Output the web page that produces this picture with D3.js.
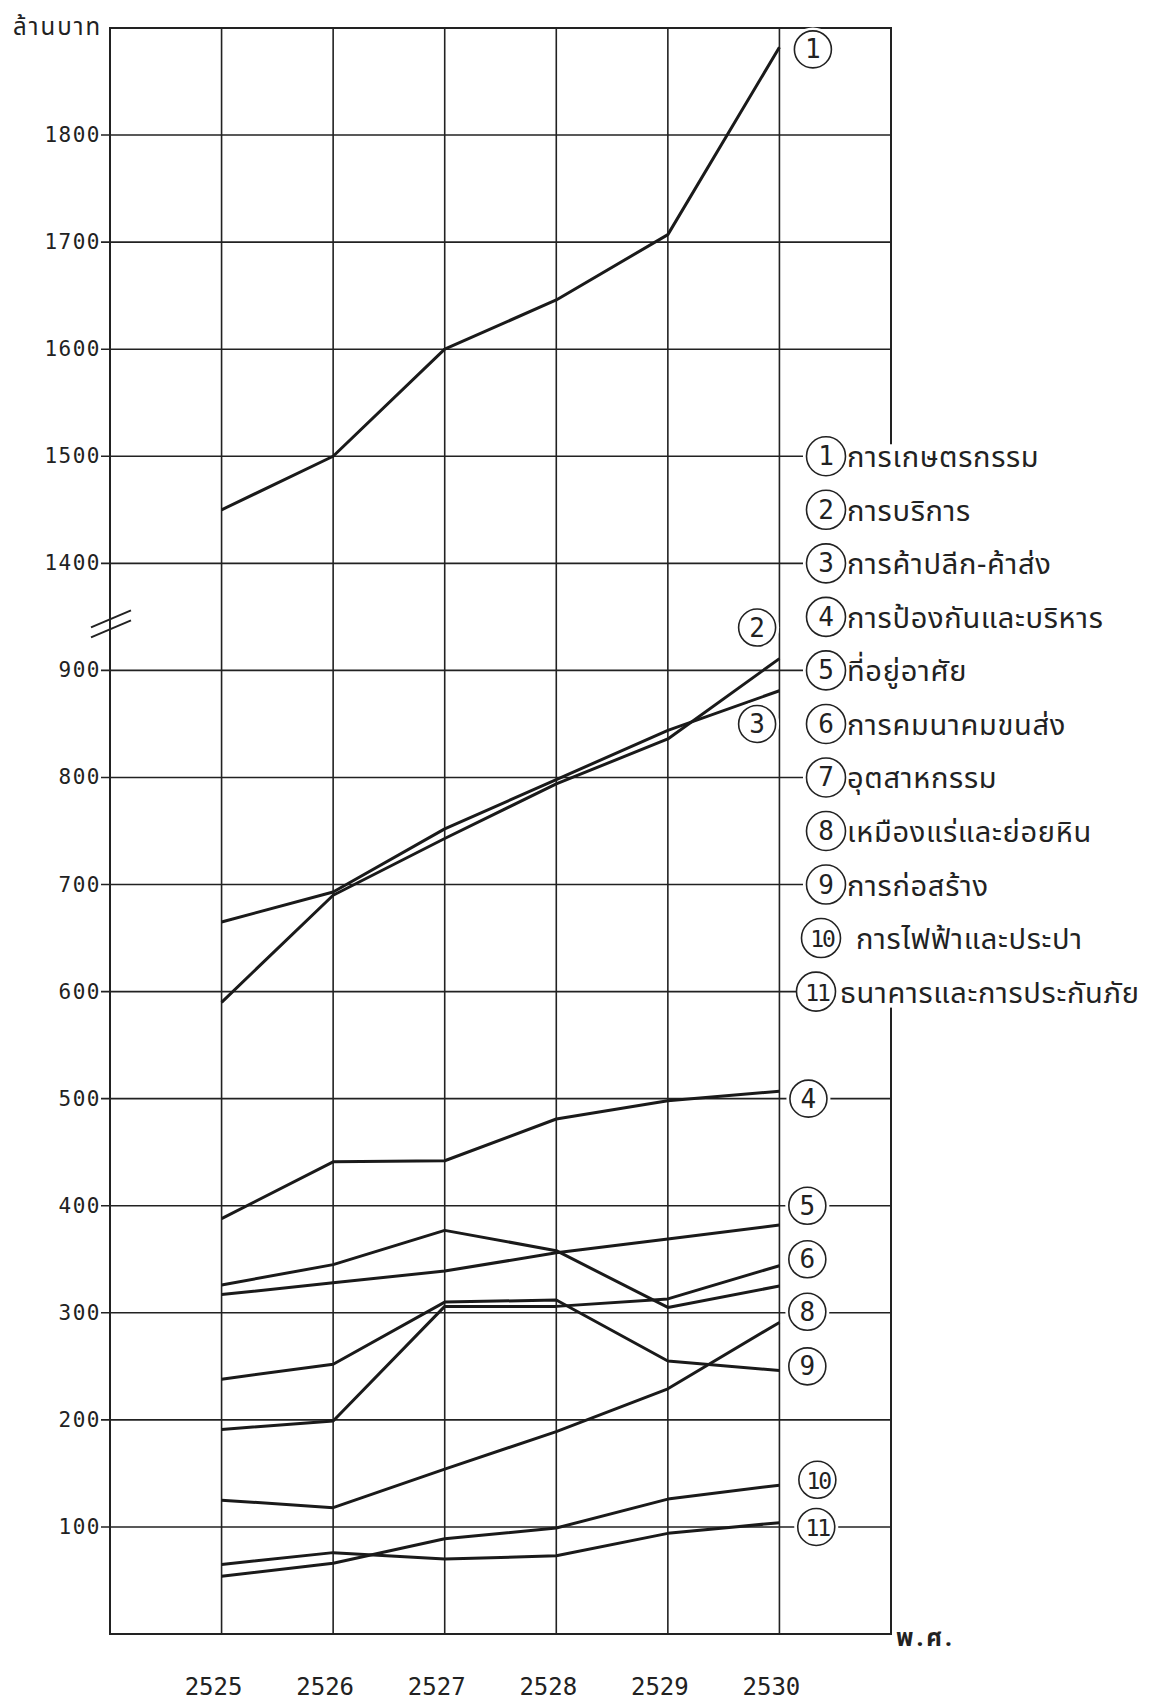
<!DOCTYPE html>
<html lang="th">
<head>
<meta charset="UTF-8">
<title>มูลค่าผลิตภัณฑ์ พ.ศ. 2525-2530</title>
<script src="https://d3js.org/d3.v7.min.js"></script>
<style>
  body { margin: 0; background: #fff; }
  svg { display: block; }
  .num { font-family: "DejaVu Sans Mono", "Liberation Mono", monospace; fill: #222; }
  .thai { font-family: "Noto Sans Thai", "Loma", "Garuda", "Tlwg Typo", "DejaVu Sans", sans-serif; fill: #222; }
</style>
</head>
<body>
<div id="chart"></div>
<script>
// ---- data (ล้านบาท) ----
var years = [2525, 2526, 2527, 2528, 2529, 2530];

var names = [
  "การเกษตรกรรม",
  "การบริการ",
  "การค้าปลีก-ค้าส่ง",
  "การป้องกันและบริหาร",
  "ที่อยู่อาศัย",
  "การคมนาคมขนส่ง",
  "อุตสาหกรรม",
  "เหมืองแร่และย่อยหิน",
  "การก่อสร้าง",
  "การไฟฟ้าและประปา",
  "ธนาคารและการประกันภัย"
];

var agriculture  = [1450, 1500, 1600, 1646, 1707, 1882];
var services     = [590, 690, 743, 794, 836, 911];
var trade        = [665, 693, 752, 798, 844, 881];
var defence      = [388, 441, 442, 481, 498, 507];
var housing      = [317, 328, 339, 356, 369, 382];
var transport    = [191, 199, 306, 306, 313, 344];
var industry     = [326, 345, 377, 358, 305, 325];
var mining       = [125, 118, 154, 189, 229, 291];
var construction = [238, 252, 310, 312, 255, 246];
var utilities    = [54, 66, 89, 99, 126, 139];
var banking      = [65, 76, 70, 73, 94, 104];

var series = [agriculture, services, trade, defence, housing, transport,
              industry, mining, construction, utilities, banking];

// tick labels on the broken y axis
var lowTicks  = [100, 200, 300, 400, 500, 600, 700, 800, 900];
var highTicks = [1400, 1500, 1600, 1700, 1800];

// ---- layout ----
var W = 1159, H = 1701;
var plotL = 110, plotR = 891, plotT = 28, plotB = 1634;

// axis is cut between 900 and 1400: upper part is shifted down by 400
var cut = 400;
function disp(v) { return v >= 1000 ? v - cut : v; }

var x = d3.scaleLinear().domain([2524, 2531]).range([plotL, plotR]);
var y = d3.scaleLinear().domain([0, 1500]).range([plotB, plotT]);

var svg = d3.select("#chart").append("svg")
  .attr("width", W)
  .attr("height", H);

// horizontal grid lines + tick labels
var allTicks = lowTicks.concat(highTicks);
svg.append("g").selectAll("line")
  .data(allTicks)
  .enter().append("line")
    .attr("x1", plotL - 9)
    .attr("x2", plotR)
    .attr("y1", function(d) { return y(disp(d)); })
    .attr("y2", function(d) { return y(disp(d)); })
    .attr("stroke", "#222")
    .attr("stroke-width", 1.6);

svg.append("g").selectAll("text")
  .data(allTicks)
  .enter().append("text")
    .attr("class", "num")
    .attr("x", plotL - 9)
    .attr("y", function(d) { return y(disp(d)) + 7; })
    .attr("text-anchor", "end")
    .style("font-size", "21px")
    .style("letter-spacing", "1.5px")
    .text(function(d) { return d; });

// vertical grid lines at each year
svg.append("g").selectAll("line")
  .data(years)
  .enter().append("line")
    .attr("x1", function(d) { return x(d); })
    .attr("x2", function(d) { return x(d); })
    .attr("y1", plotT)
    .attr("y2", plotB)
    .attr("stroke", "#222")
    .attr("stroke-width", 1.6);

// frame
svg.append("rect")
  .attr("x", plotL)
  .attr("y", plotT)
  .attr("width", plotR - plotL)
  .attr("height", plotB - plotT)
  .attr("fill", "none")
  .attr("stroke", "#222")
  .attr("stroke-width", 2);

// year labels
svg.append("g").selectAll("text")
  .data(years)
  .enter().append("text")
    .attr("class", "num")
    .attr("x", function(d) { return x(d) - 8; })
    .attr("y", plotB + 61)
    .attr("text-anchor", "middle")
    .style("font-size", "24px")
    .text(function(d) { return d; });

svg.append("text")
  .attr("class", "thai")
  .attr("x", plotR + 5)
  .attr("y", plotB + 12)
  .style("font-size", "24px")
  .style("font-weight", "bold")
  .style("letter-spacing", "3px")
  .text("พ.ศ.");

// y axis title
svg.append("text")
  .attr("class", "thai")
  .attr("x", 13)
  .attr("y", plotT + 7)
  .style("font-size", "24px")
  .style("letter-spacing", "2px")
  .text("ล้านบาท");

// axis break marks
var bx = x(2524), by = y(943);
[-5, 5].forEach(function(o) {
  svg.append("line")
    .attr("x1", bx - 19).attr("y1", by + o + 8)
    .attr("x2", bx + 21).attr("y2", by + o - 9)
    .attr("stroke", "#222")
    .attr("stroke-width", 2);
});

// data lines
var line = d3.line()
  .x(function(d, i) { return x(years[i]); })
  .y(function(d) { return y(disp(d)); });

svg.append("g").selectAll("path")
  .data(series)
  .enter().append("path")
    .attr("d", line)
    .attr("fill", "none")
    .attr("stroke", "#1a1a1a")
    .attr("stroke-width", 3)
    .attr("stroke-linejoin", "round");

// numbered circles next to the lines: [series no, year position, value on the drawn axis]
var tags = [
  [1, 2530.3, 1480], [2, 2529.8, 940], [3, 2529.8, 850],
  [4, 2530.26, 500], [5, 2530.25, 400], [6, 2530.25, 350], [8, 2530.25, 301],
  [9, 2530.25, 250], [10, 2530.34, 144], [11, 2530.33, 100]
];

function badge(g, n, cx, cy, r) {
  g.append("circle")
    .attr("cx", cx).attr("cy", cy).attr("r", r)
    .attr("fill", "#fff")
    .attr("stroke", "#222")
    .attr("stroke-width", 1.6);
  g.append("text")
    .attr("class", "num")
    .attr("x", cx + (n > 9 ? 1 : 0))
    .attr("y", cy + 9)
    .attr("text-anchor", "middle")
    .style("font-size", n > 9 ? "23px" : "26px")
    .style("letter-spacing", n > 9 ? "-2px" : "0px")
    .text(n);
}

var tagG = svg.append("g");
tags.forEach(function(t) {
  // small white gap on the grid line around the circle
  tagG.append("circle")
    .attr("cx", x(t[1])).attr("cy", y(t[2])).attr("r", 22)
    .attr("fill", "#fff");
  badge(tagG, t[0], x(t[1]), y(t[2]), 18.5);
});

// legend (covers the right edge of the frame)
var step = (y(1000) - y(1100)) / 2;
svg.append("rect")
  .attr("x", 803)
  .attr("y", y(1100) - 12)
  .attr("width", W - 803)
  .attr("height", step * 10 + 24 + 4)
  .attr("fill", "#fff");

var legG = svg.append("g");
names.forEach(function(label, i) {
  var cy = y(1100) + i * step;
  var cx = i < 9 ? 826 : (i == 9 ? 821 : 816);
  badge(legG, i + 1, cx, cy, 19.5);
  legG.append("text")
    .attr("class", "thai")
    .attr("x", i < 9 ? 847 : (i == 9 ? 856 : 840))
    .attr("y", cy + 11)
    .style("font-size", "29px")
    .style("letter-spacing", "0.7px")
    .text(label);
});
</script>
</body>
</html>
